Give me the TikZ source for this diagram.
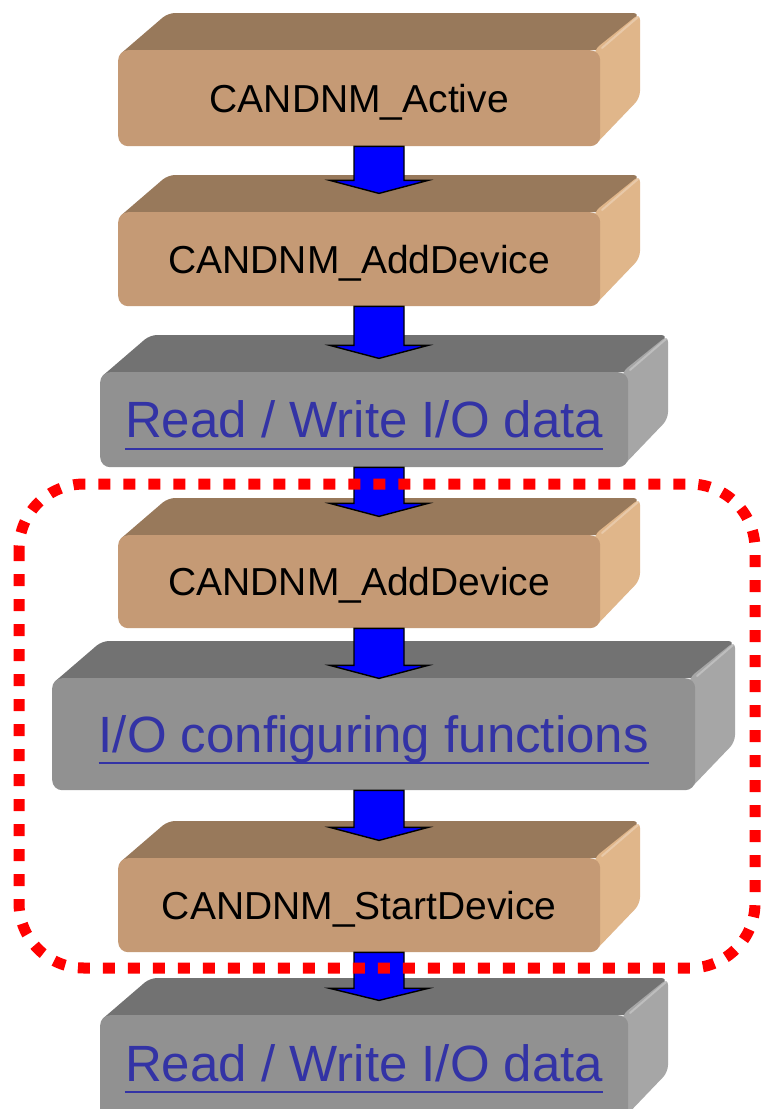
\documentclass[tikz,border=0pt]{standalone}
\usepackage{fontspec}
\setmainfont{Liberation Sans}
\usetikzlibrary{calc}

\definecolor{tanfront}{RGB}{197,154,117}
\definecolor{tantop}{RGB}{152,121,91}
\definecolor{tanside}{RGB}{224,182,138}
\definecolor{grayfront}{RGB}{145,145,145}
\definecolor{graytop}{RGB}{114,114,114}
\definecolor{grayside}{RGB}{166,166,166}
\definecolor{linkblue}{RGB}{51,51,165}
\definecolor{arrowblue}{RGB}{0,0,255}
\definecolor{dashred}{RGB}{255,0,0}

% a bevelled 3-D slab: #1 name, #2 left, #3 right, #4 top, #5 bottom of the front face, #6 palette
\newcommand\slab[6]{%
  \fill[#6top, rounded corners=7] (#2,#4+6) -- (#2+50,#4-37) -- (#3+40,#4-37) -- (#3+8,#4) -- (#2+8,#4) -- cycle;
  \fill[#6side, rounded corners=7] (#3-6,#4) -- (#3+40,#4-37) -- (#3+40,#5-48) -- (#3-6,#5) -- cycle;
  \draw[#6side!55!white, line width=2, line cap=round, opacity=.6] (#3+2,#4-2) -- (#3+38,#4-33);
  \node[fill=#6front, rounded corners=10, minimum width=#3-#2, minimum height=#5-#4,
        inner sep=0, anchor=north west] (#1) at (#2,#4) {};
}

\tikzset{
  steplabel/.style={anchor=base, inner sep=0, text=black, font=\fontsize{39}{40}\selectfont},
  linklabel/.style={anchor=base, inner sep=0, text=linkblue, font=\fontsize{51}{52}\selectfont},
  underlink/.style={draw=linkblue, line width=2.4},
  pics/blkarrow/.style 2 args={code={
    \filldraw[fill=arrowblue, draw=black, line width=1.4, line join=miter]
      (-25,0) -- (25,0) -- (25,#1) -- (49,#1) -- (0,#2) -- (-49,#1) -- (-25,#1) -- cycle;
  }},
  groupframe/.style={draw=dashred, line width=11, dash pattern=on 12 off 13, rounded corners=65}
}

\begin{document}
\begin{tikzpicture}[x=1pt,y=-1pt]
\useasboundingbox[fill=white] (0,0) rectangle (761,1109);
\coordinate (axis) at (379,0);

% CANDNM_Active
\slab{b1}{118}{600}{50}{146}{tan}
\node[steplabel] (t1) at ($(b1.center)+(0,14)$) {CANDNM\_Active};

% CANDNM_AddDevice
\slab{b2}{118}{600}{212}{306}{tan}
\node[steplabel] (t2) at ($(b2.center)+(0,14)$) {CANDNM\_AddDevice};
\pic at (b1.south -| axis) {blkarrow={34}{47}};

% Read / Write I/O data
\slab{b3}{100}{628}{372}{467}{gray}
\node[linklabel] (t3) at ($(b3.center)+(0,18)$) {Read / Write I/O data};
\draw[underlink] ([yshift=-11]t3.base west) -- ([yshift=-11]t3.base east);
\pic at (b2.south -| axis) {blkarrow={39}{52}};

% CANDNM_AddDevice (inside the group)
\slab{b4}{118}{600}{535}{628}{tan}
\node[steplabel] (t4) at ($(b4.center)+(0,14)$) {CANDNM\_AddDevice};
\pic at (b3.south -| axis) {blkarrow={36}{49}};

% I/O configuring functions
\slab{b5}{52}{695}{678}{790}{gray}
\node[linklabel] (t5) at ($(b5.center)+(0,18)$) {I/O configuring functions};
\draw[underlink] ([yshift=-11]t5.base west) -- ([yshift=-11]t5.base east);
\pic at (b4.south -| axis) {blkarrow={37}{50}};

% CANDNM_StartDevice
\slab{b6}{118}{600}{858}{952}{tan}
\node[steplabel] (t6) at ($(b6.center)+(0,14)$) {CANDNM\_StartDevice};
\pic at (b5.south -| axis) {blkarrow={37}{50}};

% Read / Write I/O data (after the group)
\slab{b7}{100}{628}{1015}{1120}{gray}
\node[linklabel] (t7) at ($(b7.north)+(0,66)$) {Read / Write I/O data};
\draw[underlink] ([yshift=-11]t7.base west) -- ([yshift=-11]t7.base east);
\pic at (b6.south -| axis) {blkarrow={36}{48}};

% dashed frame around the configuration steps
\draw[groupframe] (19,484) rectangle (755,968);
\end{tikzpicture}
\end{document}
